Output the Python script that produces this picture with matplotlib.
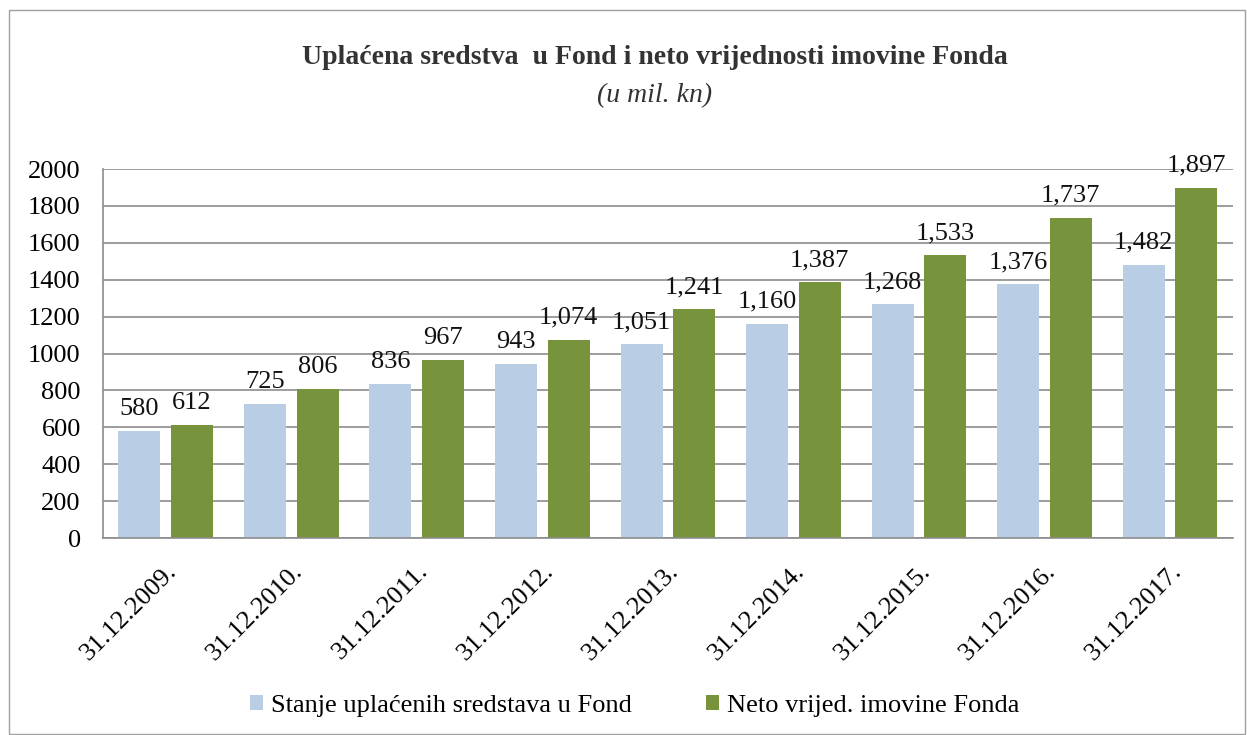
import matplotlib.pyplot as plt
import numpy as np
from matplotlib.patches import Rectangle

# Chart data
dates = ["31.12.2009.", "31.12.2010.", "31.12.2011.", "31.12.2012.", "31.12.2013.",
         "31.12.2014.", "31.12.2015.", "31.12.2016.", "31.12.2017."]
uplaceno = [580, 725, 836, 943, 1051, 1160, 1268, 1376, 1482]
neto = [612, 806, 967, 1074, 1241, 1387, 1533, 1737, 1897]
yticks = [0, 200, 400, 600, 800, 1000, 1200, 1400, 1600, 1800, 2000]

serif = ["Liberation Serif", "DejaVu Serif"]
light_blue = "#B9CDE5"
green = "#77933C"
grid_col = "#8C8C8C"

fig = plt.figure(figsize=(12.47, 7.35), dpi=100)
ax = fig.add_axes([0.0826, 0.268, 0.906, 0.502])

# outer frame of the chart
fig.patches.append(Rectangle((0.007, 0.002), 0.991, 0.984, transform=fig.transFigure,
                             fill=False, edgecolor="#A0A0A0", linewidth=1))

x = np.arange(len(dates))
w = 0.335
b1 = ax.bar(x - 0.21, uplaceno, w, color=light_blue, label="Stanje uplaćenih sredstava u Fond", zorder=2)
b2 = ax.bar(x + 0.21, neto, w, color=green, label="Neto vrijed. imovine Fonda", zorder=2)

for bars, vals in ((b1, uplaceno), (b2, neto)):
    for r, v in zip(bars, vals):
        ax.annotate(f"{v:,}", (r.get_x() + r.get_width() / 2, r.get_height()),
                    xytext=(0, 8), textcoords="offset points", ha="center", va="bottom",
                    family=serif, fontsize=19, color="#111111")

ax.set_xlim(-0.5, len(dates) - 0.5)
ax.set_ylim(0, 2000)
ax.set_yticks(yticks)
ax.set_yticklabels([str(t) for t in yticks], family=serif, fontsize=19)
ax.set_xticks(x)
ax.set_xticklabels(dates, rotation=45, ha="right", rotation_mode="anchor",
                   family=serif, fontsize=19)
ax.tick_params(axis="y", length=0, pad=16)
ax.tick_params(axis="x", length=0, pad=16)

ax.yaxis.grid(True, color=grid_col, linewidth=1.2, zorder=0)
ax.set_axisbelow(True)
for s in ("top", "right"):
    ax.spines[s].set_visible(False)
for s in ("left", "bottom"):
    ax.spines[s].set_color(grid_col)
    ax.spines[s].set_linewidth(1.2)

fig.text(0.525, 0.922, "Uplaćena sredstva  u Fond i neto vrijednosti imovine Fonda",
         ha="center", va="center", family=serif, fontsize=20, fontweight="bold", color="#333333")
fig.text(0.525, 0.870, "(u mil. kn)", ha="center", va="center", family=serif,
         fontsize=20, fontstyle="italic", color="#333333")

fig.legend(loc="center", bbox_to_anchor=(0.509, 0.04), ncol=2, frameon=False,
           prop={"family": serif, "size": 19}, handlelength=0.5, handleheight=0.5,
           handletextpad=0.3, columnspacing=2.8)

plt.savefig("out.png", dpi=100)
